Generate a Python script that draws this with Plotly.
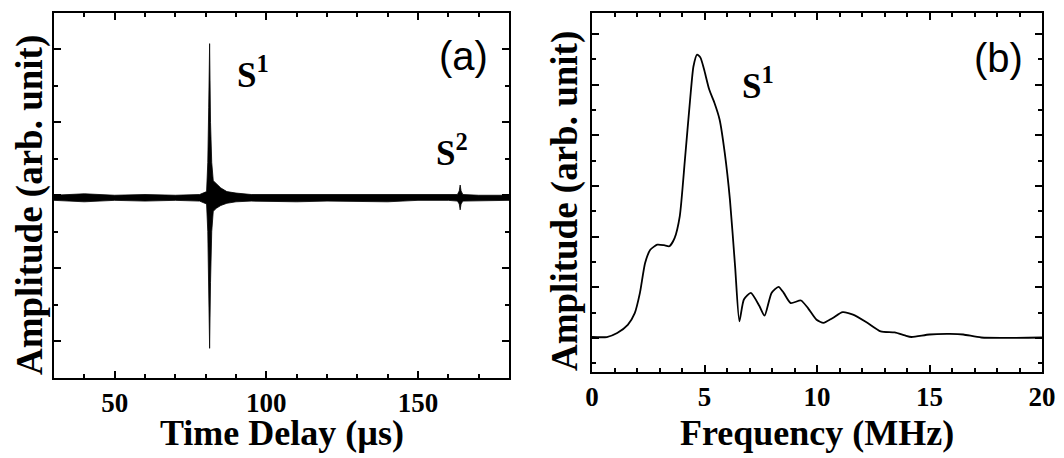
import plotly.graph_objects as go

# The page body has an 8 px margin, so the figure is drawn 8 px smaller
# and all screen positions are shifted by that offset.
OFF = 8
W, H = 1064 - OFF, 458 - OFF

# ---------------- Panel (a): time-domain signal envelope ----------------
time_us = [30, 40, 50, 60, 70, 78, 80.3, 80.7, 81.0, 81.3, 81.6, 82.0, 82.5, 83.5,
           85, 87, 90, 95, 100, 110, 120, 130, 140, 150, 160, 163.0, 163.6, 163.9,
           164.2, 164.8, 170, 180]
amp_upper = [0.0, 0.02, 0.0, 0.01, 0.0, 0.01, 0.05, 0.45, 1.2, 2.08, 1.0, 0.45,
             0.2, 0.16, 0.1, 0.05, 0.03, 0.01, 0.01, 0.0, 0.01, 0.01, 0.0, 0.0,
             0.0, 0.01, 0.06, 0.14, 0.06, 0.01, 0.0, 0.0]
amp_lower = [-0.07, -0.09, -0.07, -0.08, -0.07, -0.08, -0.12, -0.5, -1.3, -2.1, -1.2,
             -0.5, -0.22, -0.18, -0.14, -0.11, -0.09, -0.08, -0.08, -0.09, -0.08, -0.08,
             -0.09, -0.07, -0.07, -0.08, -0.12, -0.2, -0.12, -0.08, -0.07, -0.07]

# ---------------- Panel (b): frequency spectrum ----------------
freq_mhz = [0, 0.66, 1.12, 1.59, 1.9, 2.13, 2.36, 2.59, 2.9, 3.2, 3.44, 3.67, 3.9, 4.13,
            4.36, 4.51, 4.67, 4.82, 4.98, 5.21, 5.44, 5.67, 5.9, 6.13, 6.36, 6.55, 6.75,
            7.06, 7.44, 7.67, 7.98, 8.29, 8.52, 8.83, 9.29, 9.6, 9.98, 10.29, 10.68,
            11.14, 11.6, 12.2, 12.83, 13.45, 13.91, 14.2, 15.0, 15.9, 16.5, 17.3, 20]
spec_amp = [0.02, 0.02, 0.1, 0.26, 0.49, 0.89, 1.48, 1.74, 1.84, 1.83, 1.81, 1.97, 2.4,
            3.52, 4.7, 5.36, 5.59, 5.53, 5.3, 4.9, 4.64, 4.31, 3.65, 2.73, 1.41, 0.33,
            0.76, 0.89, 0.63, 0.44, 0.89, 1.01, 0.89, 0.69, 0.74, 0.59, 0.36, 0.30, 0.39,
            0.51, 0.46, 0.31, 0.13, 0.11, 0.05, 0.02, 0.07, 0.08, 0.07, 0.01, 0.01]

xticks_a = [50, 100, 150]
xticks_b = [0, 5, 10, 15, 20]

fig = go.Figure()

fig.add_trace(go.Scatter(
    x=time_us + time_us[::-1],
    y=amp_upper + amp_lower[::-1],
    fill="toself", fillcolor="black", mode="lines",
    line=dict(color="black", width=0.8),
    xaxis="x", yaxis="y", showlegend=False, hoverinfo="skip"))

fig.add_trace(go.Scatter(
    x=freq_mhz, y=spec_amp, mode="lines",
    line=dict(color="black", width=1.8, shape="spline", smoothing=0.6),
    xaxis="x2", yaxis="y2", showlegend=False))

def px_x(p):
    return (p - OFF) / W

def px_y(p):
    return 1 - (p - OFF) / H

tickfont = dict(family="Liberation Serif", size=27, color="black", weight="bold")
common = dict(showline=True, linecolor="black", linewidth=2, mirror="allticks",
              ticks="inside", ticklen=7, tickwidth=2, tickcolor="black",
              showgrid=False, zeroline=False, tickfont=tickfont, automargin=False)
minor_common = dict(ticks="inside", ticklen=4, tickwidth=2, tickcolor="black")

fig.update_layout(
    width=W, height=H,
    margin=dict(l=0, r=0, t=0, b=0),
    paper_bgcolor="white", plot_bgcolor="white",
    xaxis=dict(domain=[px_x(54), px_x(509)], range=[30, 180], anchor="y",
               tickvals=xticks_a, ticktext=[str(v) for v in xticks_a],
               minor=dict(dtick=10, tick0=0, **minor_common),
               ticklabelstandoff=0, **common),
    yaxis=dict(domain=[px_y(377.5), px_y(13)], range=[-2.5, 2.5], anchor="x",
               dtick=1, tick0=0, showticklabels=False,
               minor=dict(dtick=0.5, tick0=0, **minor_common), **common),
    xaxis2=dict(domain=[px_x(592), px_x(1042)], range=[0, 20], anchor="y2",
                tickvals=xticks_b, ticktext=[str(v) for v in xticks_b],
                minor=dict(dtick=1, tick0=0, **minor_common),
                ticklabelstandoff=0, **common),
    yaxis2=dict(domain=[px_y(372), px_y(13)], range=[-0.67, 6.41], anchor="x2",
                dtick=1, tick0=0, showticklabels=False,
                minor=dict(dtick=0.5, tick0=0, **minor_common), **common),
)

serif_bold = dict(family="Liberation Serif", color="black", weight="bold")
sans = dict(family="Liberation Sans", color="black", size=40)

annots = [
    dict(text="Time Delay (µs)", x=px_x(282), y=px_y(433), font=dict(size=36, **serif_bold)),
    dict(text="Frequency (MHz)", x=px_x(817), y=px_y(433), font=dict(size=36, **serif_bold)),
    dict(text="Amplitude (arb. unit)", x=px_x(30), y=px_y(205), textangle=-90,
         font=dict(size=37, **serif_bold)),
    dict(text="Amplitude (arb. unit)", x=px_x(565), y=px_y(201), textangle=-90,
         font=dict(size=37, **serif_bold)),
    dict(text="(a)", x=px_x(463), y=px_y(56), font=sans),
    dict(text="(b)", x=px_x(998), y=px_y(58), font=sans),
    dict(text="S<sup>1</sup>", x=px_x(253), y=px_y(72), font=dict(size=35, **serif_bold)),
    dict(text="S<sup>2</sup>", x=px_x(452), y=px_y(150), font=dict(size=35, **serif_bold)),
    dict(text="S<sup>1</sup>", x=px_x(758), y=px_y(84), font=dict(size=35, **serif_bold)),
]
for a in annots:
    a.update(xref="paper", yref="paper", showarrow=False, xanchor="center", yanchor="middle")
    fig.add_annotation(**a)

fig.write_html("out.html")
